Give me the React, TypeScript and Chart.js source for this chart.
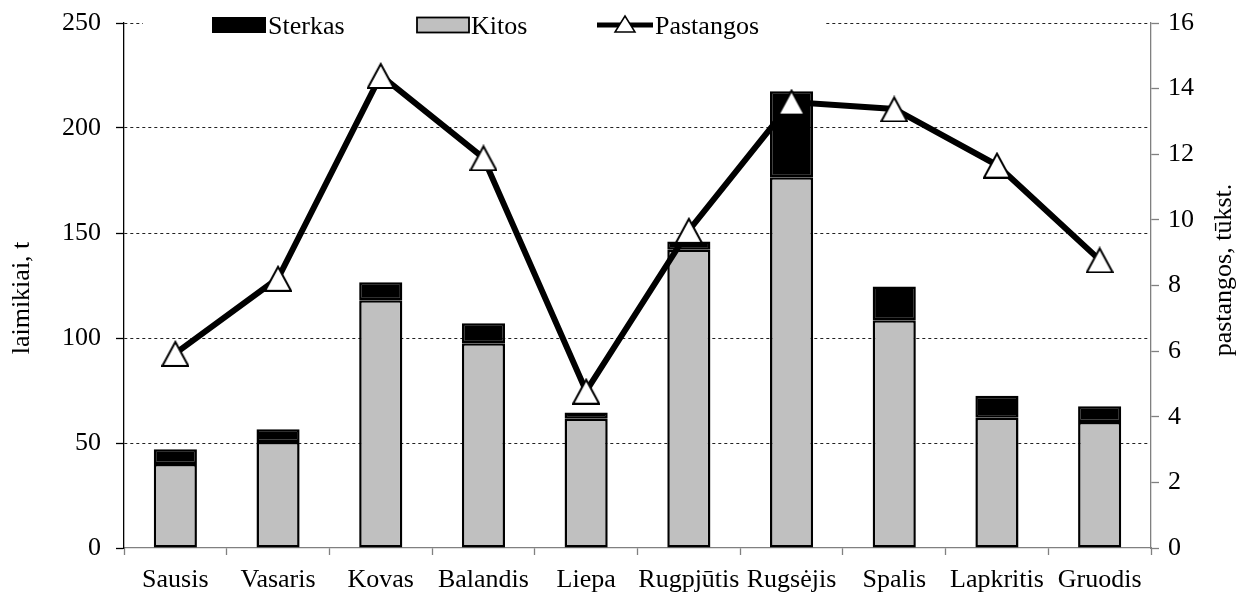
import React, { useEffect, useRef } from 'react';
import { Chart, registerables } from 'chart.js';

Chart.register(...registerables);

const months = ['Sausis', 'Vasaris', 'Kovas', 'Balandis', 'Liepa', 'Rugpjūtis', 'Rugsėjis', 'Spalis', 'Lapkritis', 'Gruodis'];
const kitos = [40, 50.5, 118, 97.5, 61.5, 142, 176.5, 108.5, 62, 60];
const sterkas = [7, 6, 8.5, 9.5, 3, 4, 41, 16, 10.5, 7.5];
const pastangos = [5.93, 8.22, 14.4, 11.89, 4.78, 9.68, 13.59, 13.38, 11.67, 8.78];
const legendLabels = ['Sterkas', 'Kitos', 'Pastangos'];
const leftTitle = 'laimikiai, t';
const rightTitle = 'pastangos, tūkst.';

const FONT = '"Liberation Serif", "Times New Roman", serif';
const FS = 26;

function makeTriangle(w: number, h: number, lw: number) {
  const c = document.createElement('canvas');
  c.width = w;
  c.height = h;
  const ctx = c.getContext('2d')!;
  ctx.beginPath();
  ctx.moveTo(w / 2, lw);
  ctx.lineTo(w - lw / 2, h - lw / 2);
  ctx.lineTo(lw / 2, h - lw / 2);
  ctx.closePath();
  ctx.fillStyle = '#fff';
  ctx.fill();
  ctx.lineWidth = lw;
  ctx.strokeStyle = '#000';
  ctx.lineJoin = 'miter';
  ctx.stroke();
  return c;
}

const overlay = {
  id: 'overlay',
  afterDraw(chart: any) {
    const ctx = chart.ctx as CanvasRenderingContext2D;
    ctx.save();
    // legend background
    ctx.fillStyle = '#fff';
    ctx.fillRect(143, 6, 682, 36);
    // Sterkas
    ctx.fillStyle = '#000';
    ctx.fillRect(212, 17, 54, 16);
    // Kitos
    ctx.fillStyle = '#c0c0c0';
    ctx.fillRect(417, 17.5, 52, 15);
    ctx.strokeStyle = '#000';
    ctx.lineWidth = 1.8;
    ctx.strokeRect(417, 17.5, 52, 15);
    // Pastangos line
    ctx.lineWidth = 5;
    ctx.beginPath();
    ctx.moveTo(597, 25);
    ctx.lineTo(653, 25);
    ctx.stroke();
    ctx.beginPath();
    ctx.moveTo(625, 16);
    ctx.lineTo(635, 32);
    ctx.lineTo(615, 32);
    ctx.closePath();
    ctx.fillStyle = '#fff';
    ctx.fill();
    ctx.lineWidth = 1.5;
    ctx.stroke();
    // legend text
    ctx.fillStyle = '#000';
    ctx.font = `${FS}px ${FONT}`;
    ctx.textAlign = 'left';
    ctx.textBaseline = 'alphabetic';
    ctx.fillText(legendLabels[0], 268, 34);
    ctx.fillText(legendLabels[1], 471, 34);
    ctx.fillText(legendLabels[2], 655, 34);
    // axis titles
    ctx.textAlign = 'center';
    ctx.textBaseline = 'middle';
    ctx.save();
    ctx.translate(22, 298);
    ctx.rotate(-Math.PI / 2);
    ctx.fillText(leftTitle, 0, 0);
    ctx.restore();
    ctx.save();
    ctx.translate(1224, 270);
    ctx.rotate(-Math.PI / 2);
    ctx.fillText(rightTitle, 0, 0);
    ctx.restore();
    ctx.restore();
  },
};

export default function App() {
  const ref = useRef<HTMLCanvasElement>(null);
  useEffect(() => {
    document.body.style.margin = '0';
    const tri = makeTriangle(28, 27, 2);
    const font = { family: FONT, size: FS };
    const chart = new Chart(ref.current!, {
      type: 'bar',
      data: {
        labels: months,
        datasets: [
          {
            type: 'bar',
            label: 'Kitos',
            data: kitos,
            backgroundColor: '#c0c0c0',
            borderColor: '#000',
            borderWidth: 2.5,
            borderSkipped: false,
            barPercentage: 0.42,
            categoryPercentage: 1,
            yAxisID: 'y',
            order: 1,
          },
          {
            type: 'bar',
            label: 'Sterkas',
            data: sterkas,
            backgroundColor: '#000',
            borderColor: '#000',
            borderWidth: 2.5,
            borderSkipped: false,
            barPercentage: 0.42,
            categoryPercentage: 1,
            yAxisID: 'y',
            order: 1,
          },
          {
            type: 'line',
            label: 'Pastangos',
            data: pastangos,
            borderColor: '#000',
            borderWidth: 6,
            tension: 0,
            pointStyle: tri as any,
            pointRadius: 14,
            yAxisID: 'y1',
            order: 0,
          } as any,
        ],
      },
      options: {
        responsive: false,
        animation: false,
        layout: { padding: { top: 23, left: 0, right: 0, bottom: 0 } },
        plugins: { legend: { display: false }, tooltip: { enabled: false } },
        scales: {
          x: {
            stacked: true,
            offset: true,
            grid: {
              display: true,
              offset: true,
              drawOnChartArea: false,
              drawTicks: true,
              tickLength: 7,
              tickColor: '#808080',
              tickWidth: 1.3,
            },
            border: { display: true, color: '#808080', width: 1.3 },
            ticks: { font, color: '#000', padding: 10, maxRotation: 0, autoSkip: false },
            afterFit: (s: any) => {
              s.height = 45;
              s.paddingLeft = 0;
              s.paddingRight = 0;
            },
          },
          y: {
            stacked: true,
            position: 'left',
            min: 0,
            max: 250,
            ticks: { stepSize: 50, font, color: '#000', padding: 15 },
            grid: {
              color: (c: any) => (c.tick && c.tick.value === 0 ? 'rgba(0,0,0,0)' : '#222'),
              lineWidth: 1,
              tickLength: 8,
              tickColor: '#000',
              tickWidth: 1.3,
            },
            border: { display: true, color: '#000', width: 1.3, dash: [3, 3] },
            afterFit: (s: any) => {
              s.width = 124;
              s.paddingTop = 0;
              s.paddingBottom = 0;
            },
          },
          y1: {
            position: 'right',
            min: 0,
            max: 16,
            ticks: { stepSize: 2, font, color: '#000', padding: 9 },
            grid: { drawOnChartArea: false, tickLength: 8, tickColor: '#808080', tickWidth: 1.3 },
            border: { display: true, color: '#808080', width: 1.3 },
            afterFit: (s: any) => {
              s.width = 91;
              s.paddingTop = 0;
              s.paddingBottom = 0;
            },
          },
        },
      } as any,
      plugins: [overlay],
    });
    return () => chart.destroy();
  }, []);
  return (
    <div style={{ width: 1242, height: 593 }}>
      <canvas ref={ref} width={1242} height={593} style={{ display: 'block' }} />
    </div>
  );
}
